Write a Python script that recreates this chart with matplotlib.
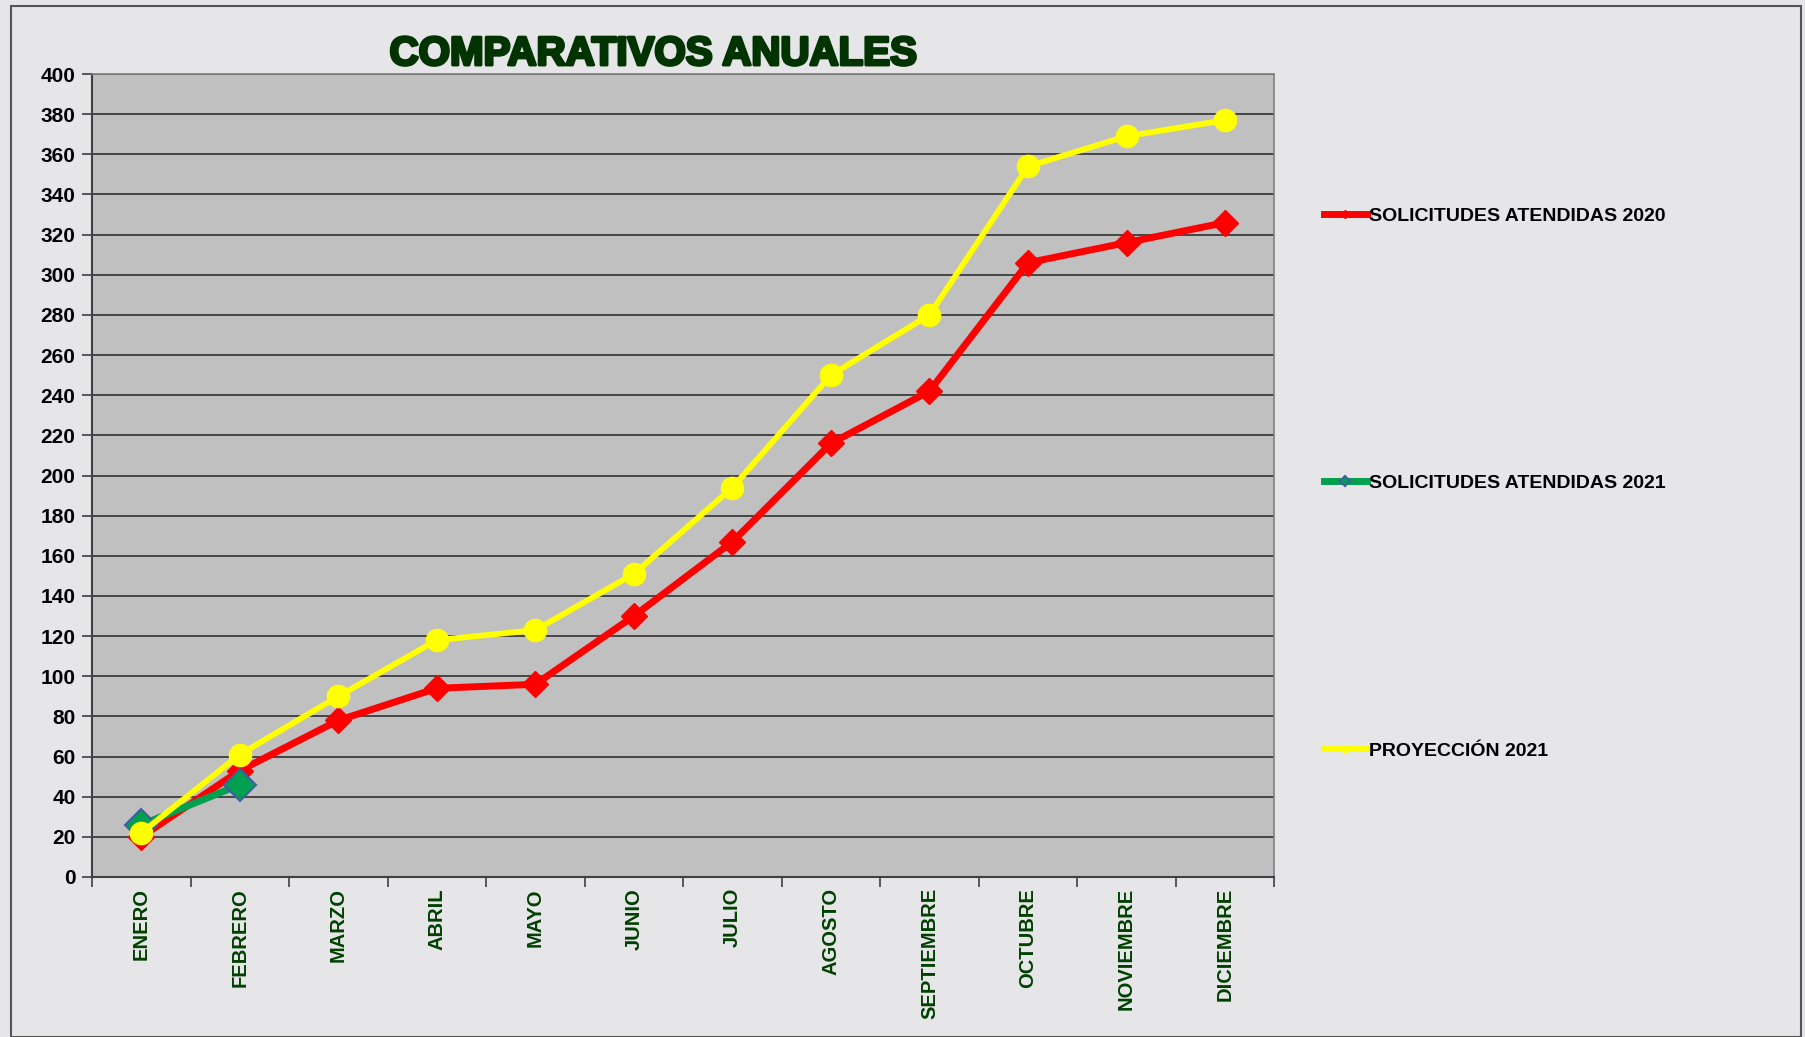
import matplotlib
matplotlib.use("AGG")
import matplotlib.pyplot as plt
import matplotlib.patheffects as pe
from matplotlib.patches import Rectangle

meses = ['ENERO', 'FEBRERO', 'MARZO', 'ABRIL', 'MAYO', 'JUNIO', 'JULIO',
         'AGOSTO', 'SEPTIEMBRE', 'OCTUBRE', 'NOVIEMBRE', 'DICIEMBRE']
sol_2020 = [20, 53, 78, 94, 96, 130, 167, 216, 242, 306, 316, 326]
sol_2021 = [26, 46]
proy_2021 = [22, 61, 90, 118, 123, 151, 194, 250, 280, 354, 369, 377]
y_ticks = list(range(0, 401, 20))

plt.rcParams['font.family'] = ['Liberation Sans', 'DejaVu Sans']

fig = plt.figure(figsize=(18.05, 10.37), dpi=100, facecolor='#e6e6e8')
fig.patches.append(Rectangle((0.006, 0.0), 0.992, 0.994, transform=fig.transFigure,
                             fill=False, edgecolor='#555555', linewidth=1.5))
ax = fig.add_axes([0.051, 0.1543, 0.655, 0.7743])
ax.set_facecolor('#c0c0c0')

x = range(len(meses))
ax.plot(x, sol_2020, color='red', linewidth=5, marker='D', markersize=13,
        label='SOLICITUDES ATENDIDAS 2020', zorder=3)
ax.plot(range(len(sol_2021)), sol_2021, color='#00a050', linewidth=5, marker='D',
        markersize=16, markerfacecolor='#00a050', markeredgecolor='#4060a0',
        markeredgewidth=1.5, label='SOLICITUDES ATENDIDAS 2021', zorder=4)
ax.plot(x, proy_2021, color='#ffff00', linewidth=4.2, marker='o', markersize=16,
        label='PROYECCIÓN 2021', zorder=5)

ax.set_xlim(-0.5, len(meses) - 0.5)
ax.set_ylim(0, 400)
ax.set_yticks(y_ticks)
ax.set_yticklabels([str(v) for v in y_ticks], fontsize=15, fontweight='bold')
ax.yaxis.grid(True, color='#303030', linewidth=1.2)
ax.set_axisbelow(True)

ax.set_xticks([i + 0.5 for i in range(-1, len(meses))], minor=False)
ax.set_xticklabels([])
ax.set_xticks(list(x), minor=True)
ax.set_xticklabels(meses, minor=True, rotation=90, fontsize=14.5, fontweight='bold',
                   color='#004000')
ax.tick_params(axis='x', which='minor', length=0, pad=8)
ax.tick_params(axis='x', which='major', length=7, color='#404040', width=1.2)
ax.tick_params(axis='y', length=7, color='#404040', width=1.2, pad=5)
for s in ['left', 'bottom']:
    ax.spines[s].set_color('#404040')
    ax.spines[s].set_linewidth(1.5)
for s in ['top', 'right']:
    ax.spines[s].set_color('#808080')
    ax.spines[s].set_linewidth(1.2)

fig.text(0.362, 0.948, 'COMPARATIVOS ANUALES', ha='center', va='center',
         fontsize=29, fontweight='bold', color='#003300',
         path_effects=[pe.withStroke(linewidth=2.2, foreground='#003300')])

leg = ax.legend(loc='upper left', bbox_to_anchor=(1.027, 0.856), frameon=False,
                fontsize=14, labelspacing=12.85, handlelength=2.2, markerscale=0.3,
                handletextpad=0.15)
for t in leg.get_texts():
    t.set_fontweight('bold')

plt.savefig('out.png', dpi=100, facecolor=fig.get_facecolor())
